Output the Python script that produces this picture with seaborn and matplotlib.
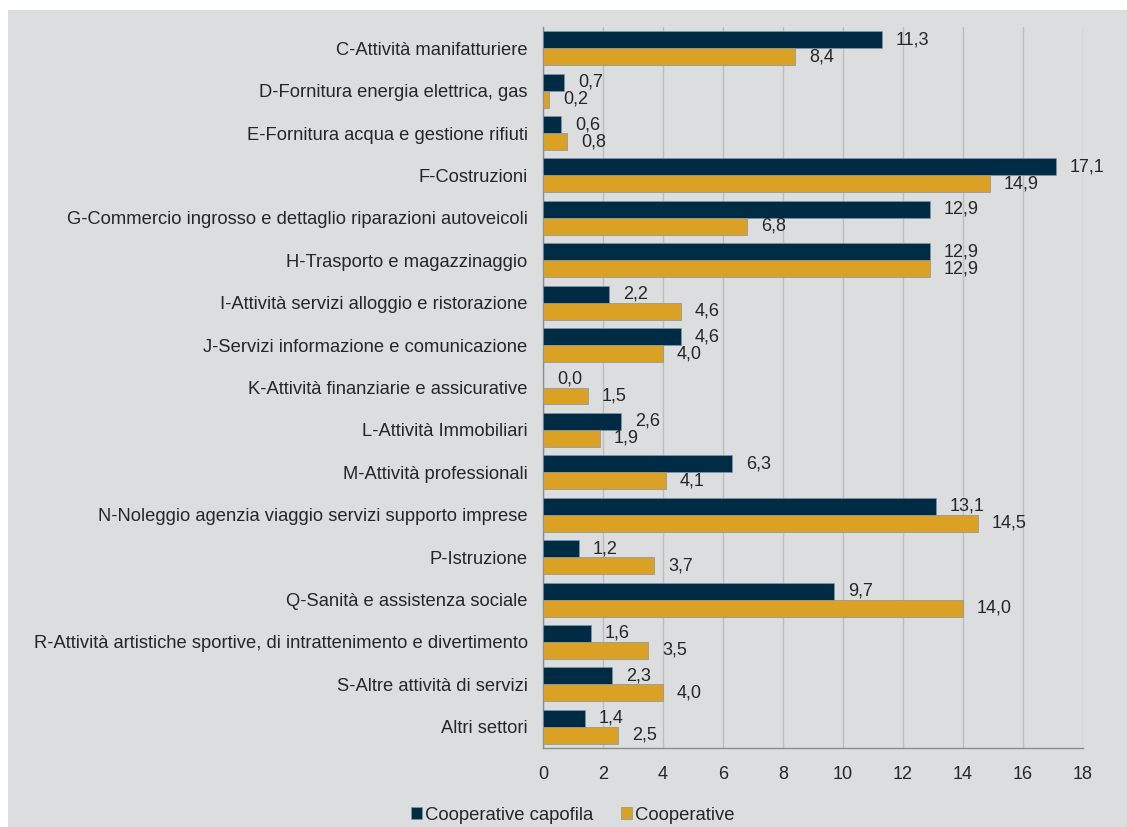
import pandas as pd
import matplotlib.pyplot as plt
import seaborn as sns
from matplotlib.patches import Rectangle

sns.set_theme(style="white")
plt.rcParams['font.family'] = ['Liberation Sans', 'DejaVu Sans']

# dati
settori = [
    "C-Attività manifatturiere",
    "D-Fornitura energia elettrica, gas",
    "E-Fornitura acqua e gestione rifiuti",
    "F-Costruzioni",
    "G-Commercio ingrosso e dettaglio riparazioni autoveicoli",
    "H-Trasporto e magazzinaggio",
    "I-Attività servizi alloggio e ristorazione",
    "J-Servizi informazione e comunicazione",
    "K-Attività finanziarie e assicurative",
    "L-Attività Immobiliari",
    "M-Attività professionali",
    "N-Noleggio agenzia viaggio servizi supporto imprese",
    "P-Istruzione",
    "Q-Sanità e assistenza sociale",
    "R-Attività artistiche sportive, di intrattenimento e divertimento",
    "S-Altre attività di servizi",
    "Altri settori",
]
capofila = [11.3, 0.7, 0.6, 17.1, 12.9, 12.9, 2.2, 4.6, 0.0, 2.6, 6.3, 13.1, 1.2, 9.7, 1.6, 2.3, 1.4]
cooperative = [8.4, 0.2, 0.8, 14.9, 6.8, 12.9, 4.6, 4.0, 1.5, 1.9, 4.1, 14.5, 3.7, 14.0, 3.5, 4.0, 2.5]
serie = ["Cooperative capofila", "Cooperative"]
colori = ["#002B45", "#DAA125"]

df = pd.DataFrame({
    "Settore": settori * 2,
    "Valore": capofila + cooperative,
    "Serie": [serie[0]] * len(settori) + [serie[1]] * len(settori),
})

bg = "#DCDDDF"
testo = "#262626"

fig = plt.figure(figsize=(11.27, 8.27), dpi=100, facecolor="white")
fig.patches.append(Rectangle((8 / 1127, 0), 1, 1 - 10 / 827, transform=fig.transFigure,
                             facecolor=bg, edgecolor="none", zorder=-1))
ax = fig.add_axes([543 / 1127, 1 - 748 / 827, 540 / 1127, (748 - 27) / 827])
ax.set_facecolor(bg)

sns.barplot(data=df, x="Valore", y="Settore", hue="Serie", palette=colori,
            saturation=1, orient="h", width=0.8, ax=ax, edgecolor="#8396a3",
            linewidth=0.5, legend=True, zorder=3)

for cont in ax.containers:
    ax.bar_label(cont, labels=[f"{b.get_width():.1f}".replace(".", ",") for b in cont],
                 padding=10, fontsize=13, color=testo)

ax.set_xlim(0, 18)
ax.set_xticks(range(0, 19, 2))
ax.grid(axis="x", color="#BDBDBD", linewidth=1, zorder=0)
ax.set_axisbelow(True)
ax.set_xlabel("")
ax.set_ylabel("")
ax.tick_params(axis="y", length=0, pad=11, labelsize=13.2, labelcolor=testo)
ax.tick_params(axis="x", length=0, pad=13, labelsize=13, labelcolor=testo)
for s in ["top", "right"]:
    ax.spines[s].set_visible(False)
for s in ["left", "bottom"]:
    ax.spines[s].set_color("#8C8C8C")
    ax.spines[s].set_linewidth(1)

handles, labels = ax.get_legend_handles_labels()
ax.get_legend().remove()
fig.legend(handles, labels, loc="lower center", bbox_to_anchor=(573 / 1127, -0.016),
           ncol=2, frameon=False, fontsize=13.3, handlelength=0.6, handleheight=0.6,
           handletextpad=0.15, columnspacing=1.5, labelcolor=testo)

fig.savefig("out.png", dpi=100, facecolor="white")
